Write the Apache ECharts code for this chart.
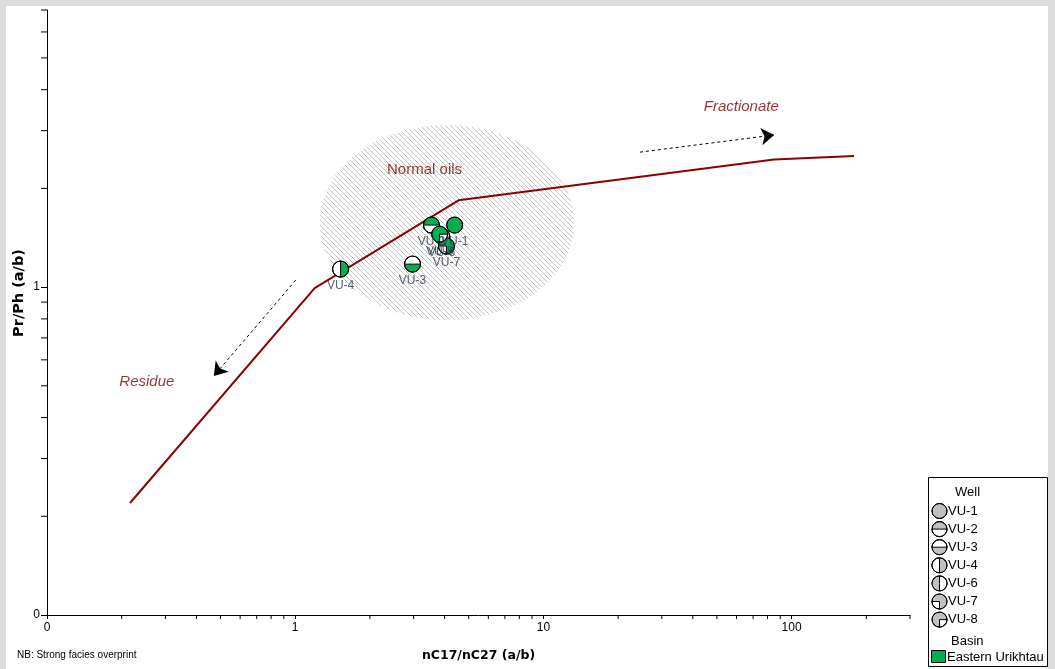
<!DOCTYPE html>
<html><head><meta charset="utf-8">
<script src="https://cdn.jsdelivr.net/npm/echarts@6/dist/echarts.min.js"></script>
<style>
html,body{margin:0;padding:0;background:#dcdcdc;width:1055px;height:669px;overflow:hidden;}
#paper{position:absolute;left:6px;top:6px;width:1042px;height:663px;background:#fff;}
#c{position:absolute;left:0;top:0;width:1055px;height:669px;}
</style>
</head><body><div id="paper"></div><div id="c"></div>
<script>
// ---- data ----
const wells = ['VU-1','VU-2','VU-3','VU-4','VU-6','VU-7','VU-8'];
const wellX = [4.39, 3.54, 2.97, 1.524, 3.89, 4.07, 3.82];
const wellY = [1.546, 1.546, 1.175, 1.135, 1.43, 1.334, 1.45];

const curveX = [0.216, 1.198, 1.416, 4.55, 85, 178.6];
const curveY = [0.2196, 0.993, 1.073, 1.84, 2.45, 2.51];

// normal oils field: x range, y range
const fieldX = [1.255, 13.3];
const fieldY = [0.793, 3.12];

const annotText = ['Normal oils', 'Fractionate', 'Residue'];
const annotX = [3.32, 62.7, 0.2526];
const annotY = [2.28, 3.54, 0.5134];

const arrowX1 = [24.5, 1.005];
const arrowY1 = [2.58, 1.05];
const arrowX2 = [85.1, 0.47];
const arrowY2 = [2.91, 0.536];

const xMin = 0.1, xMax = 300, yMin = 0.1, yMax = 7;
const xMinor = [0.2,0.3,0.4,0.5,0.6,0.7,0.8,0.9,2,3,4,5,6,7,8,9,20,30,40,50,60,70,80,90,200,300];
const yMinor = [0.2,0.3,0.4,0.5,0.6,0.7,0.8,0.9,2,3,4,5,6,7];

// ---- styles ----
const GREEN = '#00b050';
const DARKRED = '#8b0000';
const TEXTRED = '#800000';
const PI = Math.PI;
// white sector [start,end] per well symbol
const wellPattern = {
  'VU-1': null,
  'VU-2': [0, PI],          // bottom white
  'VU-3': [PI, 2*PI],       // top white
  'VU-4': [PI/2, 3*PI/2],   // left white
  'VU-6': [-PI/2, PI/2],    // right white
  'VU-7': [PI/2, PI],       // bottom-left quarter white
  'VU-8': [0, PI/2]         // bottom-right quarter white
};
function symbolShapes(cx, cy, r, fill, pat, z){
  const ch = [{type:'circle', z:z, shape:{cx, cy, r}, style:{fill, stroke:'#000', lineWidth:1}}];
  if (pat) ch.push({type:'sector', z:z, shape:{cx, cy, r, r0:0, startAngle:pat[0], endAngle:pat[1], clockwise:true},
                    style:{fill:'#fff', stroke:'#000', lineWidth:1}});
  ch.push({type:'circle', z:z, shape:{cx, cy, r}, style:{fill:'none', stroke:'#000', lineWidth:1}});
  return ch;
}

function hatch(){
  const s = 5;
  const c = document.createElement('canvas');
  c.width = s; c.height = s;
  const g = c.getContext('2d');
  g.fillStyle = '#ffffff'; g.fillRect(0,0,s,s);
  g.fillStyle = '#c2c2c2';
  for (let i=0;i<s;i++) g.fillRect(i, i, 1, 1);
  return c;
}
const hatchCanvas = hatch();

const chart = echarts.init(document.getElementById('c'), null, {renderer:'canvas'});

const FONT = 'Liberation Sans, Arial, sans-serif';

// legend graphic
const LG = [];
LG.push({type:'rect', shape:{x:928.5, y:477.5, width:119, height:189}, style:{fill:'#fff', stroke:'#000', lineWidth:1}, z:100});
LG.push({type:'text', x:955, y:492, style:{text:'Well', font:'13px '+FONT, fill:'#000', verticalAlign:'middle'}, z:101});
wells.forEach((w,i)=>{
  const cy = 511 + i*18.1;
  symbolShapes(939.5, cy, 7.5, '#c0c0c0', wellPattern[w], 101).forEach(e=>LG.push(e));
  LG.push({type:'text', x:948, y:cy, style:{text:w, font:'13px '+FONT, fill:'#000', verticalAlign:'middle'}, z:101});
});
LG.push({type:'text', x:951, y:641, style:{text:'Basin', font:'13px '+FONT, fill:'#000', verticalAlign:'middle'}, z:101});
LG.push({type:'rect', shape:{x:931.5, y:650.5, width:14, height:12}, style:{fill:GREEN, stroke:'#000', lineWidth:1}, z:101});
LG.push({type:'text', x:947, y:657, style:{text:'Eastern Urikhtau', font:'13px '+FONT, fill:'#000', verticalAlign:'middle'}, z:101});
LG.push({type:'text', x:17, y:655, style:{text:'NB: Strong facies overprint', font:'10px '+FONT, fill:'#000', verticalAlign:'middle'}, z:101});
LG.push({type:'text', x:19, y:293, rotation:PI/2, style:{text:'Pr/Ph (a/b)', font:'bold 14.5px DejaVu Sans, sans-serif', fill:'#000', align:'center', verticalAlign:'middle'}, z:101});

const option = {
  animation:false,
  backgroundColor:'transparent',
  grid:{left:47, right:145, top:10, bottom:54, containLabel:false},
  xAxis:{
    type:'log', logBase:10, min:xMin, max:xMax,
    name:'nC17/nC27 (a/b)', nameLocation:'middle', nameGap:34,
    nameTextStyle:{fontFamily:'DejaVu Sans', fontWeight:'bold', fontSize:12.5, color:'#000'},
    axisLine:{show:true, lineStyle:{color:'#000', width:1}},
    axisTick:{show:true, length:4, lineStyle:{color:'#000'}},
    axisLabel:{color:'#000', fontSize:12, fontFamily:FONT, margin:7, showMaxLabel:false,
      formatter:v=> v<1 ? '0' : String(Math.round(v))},
    splitLine:{show:false}
  },
  yAxis:{
    type:'log', logBase:10, min:yMin, max:yMax,
    axisLine:{show:true, lineStyle:{color:'#000', width:1}},
    axisTick:{show:true, length:6, lineStyle:{color:'#000'}},
    axisLabel:{color:'#000', fontSize:12, fontFamily:FONT, margin:7, showMaxLabel:false,
      formatter:v=> v<1 ? '0' : String(Math.round(v))},
    splitLine:{show:false}
  },
  graphic: LG,
  series:[
    { // hatched field
      type:'custom', z:1, silent:true,
      data:[[fieldX[0], fieldX[1], fieldY[0], fieldY[1]]],
      renderItem:(params, api)=>{
        const a = api.coord([api.value(0), api.value(3)]);
        const b = api.coord([api.value(1), api.value(2)]);
        const cx=(a[0]+b[0])/2, cy=(a[1]+b[1])/2, rx=Math.abs(b[0]-a[0])/2, ry=Math.abs(b[1]-a[1])/2;
        const pts=[];
        for(let k=0;k<120;k++){const t=k/120*2*PI; pts.push([cx+rx*Math.cos(t), cy+ry*Math.sin(t)]);}
        return {type:'polygon', shape:{points:pts}, style:{fill:{image:hatchCanvas, repeat:'repeat'}, stroke:null}};
      }
    },
    { // x minor ticks
      type:'custom', z:3, silent:true, clip:false,
      data:xMinor.map(v=>[v]),
      renderItem:(params, api)=>{
        const p = api.coord([api.value(0), yMin]);
        return {type:'line', shape:{x1:p[0], y1:p[1], x2:p[0], y2:p[1]+4}, style:{stroke:'#000', lineWidth:1}};
      }
    },
    { // y minor ticks
      type:'custom', z:3, silent:true, clip:false,
      data:yMinor.map(v=>[v]),
      renderItem:(params, api)=>{
        const p = api.coord([xMin, api.value(0)]);
        return {type:'line', shape:{x1:p[0], y1:p[1], x2:p[0]-6, y2:p[1]}, style:{stroke:'#000', lineWidth:1}};
      }
    },
    { // trend curve
      type:'line', z:4, symbol:'none', silent:true,
      data:curveX.map((x,i)=>[x, curveY[i]]),
      lineStyle:{color:DARKRED, width:2}
    },
    { // arrows
      type:'lines', coordinateSystem:'cartesian2d', z:4, silent:true,
      data:arrowX1.map((x,i)=>({coords:[[x, arrowY1[i]],[arrowX2[i], arrowY2[i]]]})),
      symbol:['none','arrow'], symbolSize:[0,13],
      lineStyle:{color:'#000', width:1, type:[3,3], opacity:1}
    },
    { // annotations
      type:'scatter', z:5, symbolSize:0, silent:true,
      data:annotText.map((t,i)=>({name:t, value:[annotX[i], annotY[i]],
        label:{fontStyle: i===0 ? 'normal' : 'italic'}})),
      label:{show:true, position:'inside', formatter:p=>p.name, color:TEXTRED, fontSize:15, fontFamily:FONT}
    },
    { // wells
      type:'custom', z:6,
      data:wells.map((w,i)=>[wellX[i], wellY[i]]),
      renderItem:(params, api)=>{
        const p = api.coord([api.value(0), api.value(1)]);
        return {type:'group', children:symbolShapes(p[0], p[1], 8, GREEN, wellPattern[wells[params.dataIndex]])};
      }
    },
    { // well labels
      type:'scatter', z:7, symbolSize:0, silent:true,
      data:wells.map((w,i)=>({name:w, value:[wellX[i], wellY[i]]})),
      label:{show:true, position:'inside', offset:[0,17], formatter:p=>p.name, color:'#27374a', fontSize:12, fontFamily:FONT}
    }
  ]
};
chart.setOption(option);
</script>
</body></html>
